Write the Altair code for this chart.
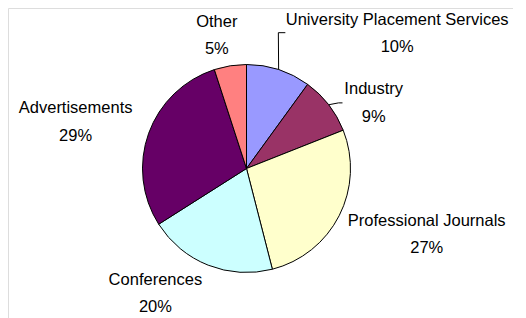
import math
import altair as alt
import pandas as pd

# ---- data ----
categories = ["University Placement Services", "Industry", "Professional Journals",
              "Conferences", "Advertisements", "Other"]
values = [10, 9, 27, 20, 29, 5]
colors = ["#9999FF", "#993366", "#FFFFCC", "#CCFFFF", "#660066", "#FF8080"]

# ---- layout (label placement relative to slice mid-angle) ----
CX, CY, R = 238.5, 160.5, 104
label_nudge = [0.084, 0.0295, -0.019, 0.040, -0.013, -0.010]   # fraction of a turn
label_radius = [202, 143, 192, 155, 177, 136]
FONT = "Liberation Sans"
FS = 16.5

total = sum(values)
cum = 0
rows = []
for i, (c, v) in enumerate(zip(categories, values)):
    mid = (cum + v / 2) / total
    cum += v
    rows.append({"idx": i, "category": c, "value": v,
                 "pct": f"{round(100 * v / total)}%",
                 "mid": mid,
                 "lt": mid + label_nudge[i],
                 "lr": label_radius[i]})
df = pd.DataFrame(rows)

# leader lines for the two small top-right slices: (slice idx, elbow radius, elbow angle deg, tail px)
leader_spec = [(0, 139.5, 13.2, 7), (1, 113, 54.5, 4)]
lrows = []
for k, (i, er, ea, tail) in enumerate(leader_spec):
    a = df.loc[i, "mid"] * 2 * math.pi
    p0 = (CX + R * math.sin(a), CY - R * math.cos(a))
    b = math.radians(ea)
    p1 = (CX + er * math.sin(b), CY - er * math.cos(b))
    p2 = (p1[0] + tail, p1[1])
    for j, p in enumerate([p0, p1, p2]):
        lrows.append({"leader": k, "o": j, "px": p[0], "py": p[1]})
ldf = pd.DataFrame(lrows)

base = alt.Chart(df)

pie = base.mark_arc(outerRadius=R, stroke="black", strokeWidth=1).encode(
    theta=alt.Theta("value:Q", stack=True),
    order=alt.Order("idx:Q"),
    color=alt.Color("category:N", scale=alt.Scale(domain=categories, range=colors), legend=None),
    x=alt.value(CX),
    y=alt.value(CY),
)

theta_lbl = alt.Theta("lt:Q", stack=False, scale=alt.Scale(domain=[0, 1], range=[0, 2 * math.pi]))
rad_lbl = alt.Radius("lr:Q", scale=None)

names = base.mark_text(font=FONT, fontSize=FS, color="black", dy=-14, baseline="middle").encode(
    theta=theta_lbl, radius=rad_lbl, text="category:N",
    x=alt.value(CX), y=alt.value(CY),
)
pcts = base.mark_text(font=FONT, fontSize=FS, color="black", dy=13.5, baseline="middle").encode(
    theta=theta_lbl, radius=rad_lbl, text="pct:N",
    x=alt.value(CX), y=alt.value(CY),
)

leaders = alt.Chart(ldf).mark_line(color="black", strokeWidth=1).encode(
    x=alt.X("px:Q", scale=None),
    y=alt.Y("py:Q", scale=None),
    detail="leader:N",
    order="o:Q",
)

chart = alt.layer(pie, leaders, names, pcts).resolve_scale(
    theta="independent"
).properties(
    width=505, height=310,
    autosize=alt.AutoSizeParams(type="none"),
    padding=0,
).configure_view(stroke=None).configure(background="white")

chart.save("out.html", embed_options={"renderer": "svg", "actions": False})
